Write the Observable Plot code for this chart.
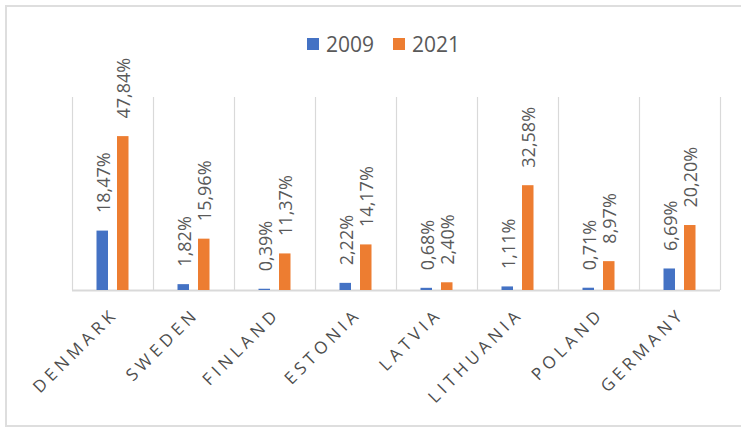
<!DOCTYPE html>
<html><head><meta charset="utf-8">
<script src="https://cdn.jsdelivr.net/npm/d3@7"></script>
<script src="https://cdn.jsdelivr.net/npm/@observablehq/plot@0.6"></script>
<style>
body{margin:0;background:#fff;}
#wrap{position:relative;width:741px;height:428px;overflow:hidden;font-family:"Open Sans",sans-serif;}
#frame{position:absolute;left:5px;top:5px;width:760px;height:422px;border:2px solid #dedede;box-sizing:border-box;}
#legend{position:absolute;left:307px;top:32px;display:flex;align-items:center;font-size:21px;line-height:24px;color:#595959;}
#legend .sw{width:12px;height:12px;margin-right:7px;}
#legend .lab{margin-right:19px;}
#chart{position:absolute;left:0;top:0;}
g[aria-description="xlab"] text{letter-spacing:4.3px;}
</style>
</head><body>
<div id="wrap">
  <div id="frame"></div>
  <div id="chart"></div>
  <div id="legend"></div>
</div>
<script>
const countries = ["DENMARK","SWEDEN","FINLAND","ESTONIA","LATVIA","LITHUANIA","POLAND","GERMANY"];
const years = ["2009","2021"];
const v2009 = [18.47,1.82,0.39,2.22,0.68,1.11,0.71,6.69];
const v2021 = [47.84,15.96,11.37,14.17,2.40,32.58,8.97,20.20];
const colors = ["#4472C4","#ED7D31"];

const fmt = v => v.toFixed(2).replace(".", ",") + "%";
const d2009 = countries.map((c,i)=>({country:c, value:v2009[i]}));
const d2021 = countries.map((c,i)=>({country:c, value:v2021[i]}));

const W = 741, H = 428, mL = 72, mR = 21, mT = 97, mB = 138;
const bw = (W - mL - mR) / countries.length;
const barW = 11.5, off = 10.25;
const inset = (bw - barW) / 2;

const chart = Plot.plot({
  width: W, height: H,
  marginTop: mT, marginBottom: mB, marginLeft: mL, marginRight: mR,
  x: {type: "band", domain: countries, padding: 0, axis: null},
  y: {domain: [0, 60], axis: null},
  style: {fontFamily: "'Open Sans', sans-serif", background: "transparent", overflow: "visible"},
  marks: [
    Plot.ruleX(countries, {x: d => d, dx: -bw/2, y1: 0, y2: 60, stroke: "#d9d9d9", strokeWidth: 1.2}),
    Plot.ruleX([countries[countries.length-1]], {x: d => d, dx: bw/2, y1: 0, y2: 60, stroke: "#d9d9d9", strokeWidth: 1.2}),
    Plot.ruleY([0], {stroke: "#d9d9d9", strokeWidth: 1.8}),
    Plot.barY(d2009, {x: "country", y: "value", fill: colors[0], dx: -off, insetLeft: inset, insetRight: inset}),
    Plot.barY(d2021, {x: "country", y: "value", fill: colors[1], dx: off, insetLeft: inset, insetRight: inset}),
    Plot.text(d2009, {x: "country", y: "value", text: d => fmt(d.value), rotate: -90, textAnchor: "start", lineAnchor: "middle", dx: -off + 1, dy: -18, fill: "#595959", fontSize: 18}),
    Plot.text(d2021, {x: "country", y: "value", text: d => fmt(d.value), rotate: -90, textAnchor: "start", lineAnchor: "middle", dx: off + 1, dy: -18, fill: "#595959", fontSize: 18}),
    Plot.text(countries, {x: d => d, frameAnchor: "bottom", text: d => d, rotate: -45, textAnchor: "end", lineAnchor: "top", dx: -2.5, dy: 16, fill: "#4d4d4d", fontSize: 17, ariaDescription: "xlab"})
  ]
});
document.getElementById("chart").appendChild(chart);

const legend = document.getElementById("legend");
years.forEach((y, i) => {
  const sw = document.createElement("div");
  sw.className = "sw"; sw.style.background = colors[i];
  const lab = document.createElement("div");
  lab.className = "lab"; lab.textContent = y;
  legend.appendChild(sw); legend.appendChild(lab);
});
</script>
</body></html>
